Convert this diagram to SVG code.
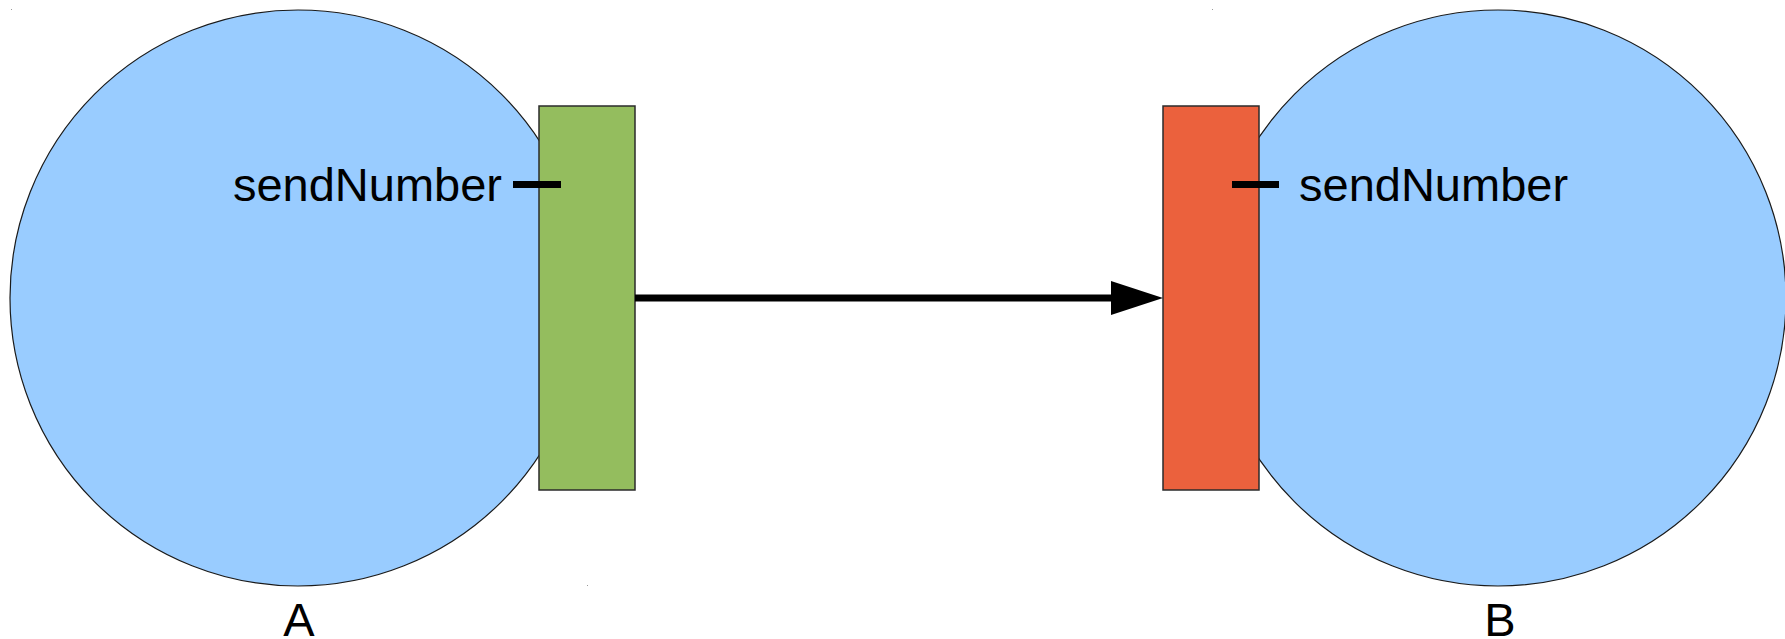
<svg xmlns="http://www.w3.org/2000/svg" width="1785" height="639" viewBox="0 0 1785 639">
  <style>
    .comp { fill: #99ccff; stroke: #1a1a1a; stroke-width: 1.2; }
    .port { stroke: #2b2b2b; stroke-width: 1.5; }
    .out { fill: #94bd5e; }
    .in { fill: #eb613d; }
    .pin { stroke: #000000; stroke-width: 7; }
    .label { font-family: "Liberation Sans", Arial, sans-serif; font-size: 47px; fill: #000000; }
    .speck { fill: #9a9a9a; }
    .wire { stroke: #000000; stroke-width: 7; fill: none; }
    .head { fill: #000000; }
  </style>

  <rect width="1785" height="639" fill="#ffffff"/>

  <!-- small anchor specks -->
  <rect class="speck" x="11" y="9" width="1" height="1"/>
  <rect class="speck" x="1212" y="9" width="1" height="1"/>
  <rect class="speck" x="587" y="585" width="1" height="1"/>

  <!-- component A -->
  <g id="component-a">
    <circle class="comp" cx="298" cy="298" r="288"/>
    <text class="label" x="299" y="636" text-anchor="middle">A</text>
  </g>

  <!-- output port of A -->
  <g id="port-a">
    <rect class="port out" x="539" y="106" width="96" height="384"/>
    <line class="pin" x1="513" y1="184.5" x2="561" y2="184.5"/>
    <text class="label" x="502" y="201" text-anchor="end">sendNumber</text>
  </g>

  <!-- component B -->
  <g id="component-b">
    <circle class="comp" cx="1498" cy="298" r="288"/>
    <text class="label" x="1500" y="636" text-anchor="middle">B</text>
  </g>

  <!-- input port of B -->
  <g id="port-b">
    <rect class="port in" x="1163" y="106" width="96" height="384"/>
    <line class="pin" x1="1232" y1="184.5" x2="1279" y2="184.5"/>
    <text class="label" x="1299" y="201">sendNumber</text>
  </g>

  <!-- connectors -->
  <g id="connectors">
    <line class="wire" x1="635" y1="298" x2="1113" y2="298"/>
    <polygon class="head" points="1111,281 1163,298 1111,315"/>
  </g>
</svg>
